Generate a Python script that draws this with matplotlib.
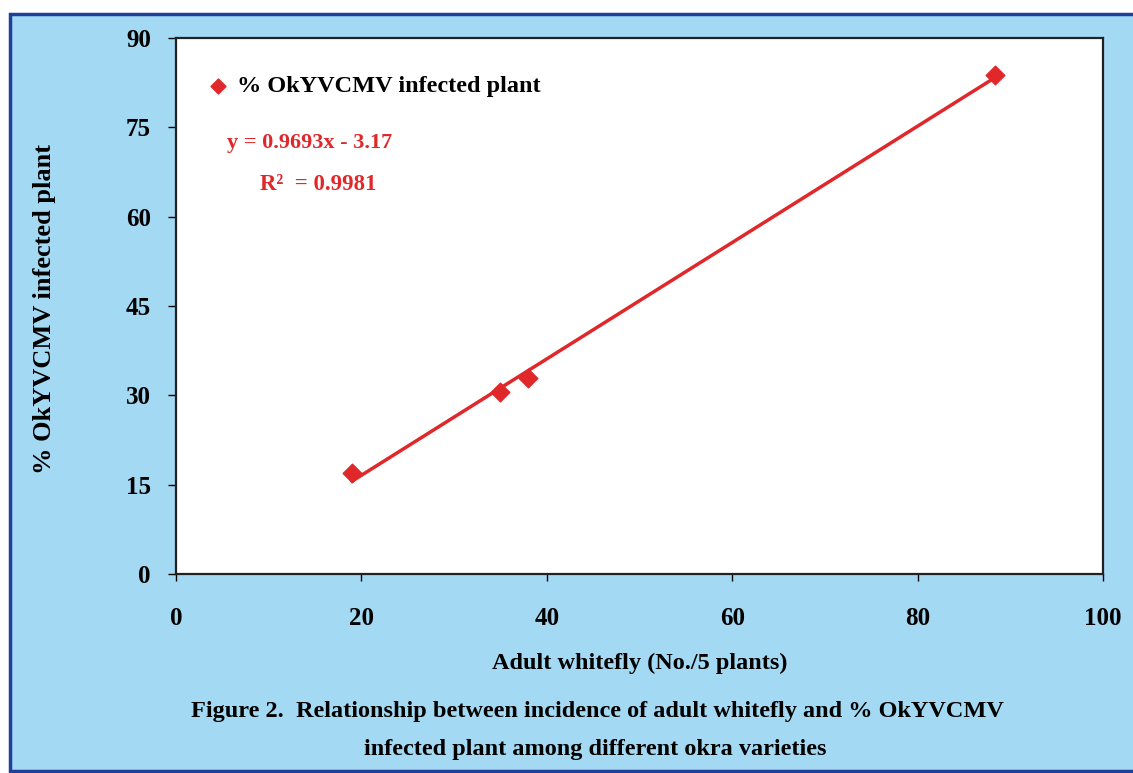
import numpy as np
import matplotlib
matplotlib.use("Agg")
import matplotlib.pyplot as plt
from matplotlib.patches import Rectangle

# Data
whitefly = [19.0, 35.0, 38.0, 88.3]
infected = [17.0, 30.6, 32.9, 83.8]
x_ticks = [0, 20, 40, 60, 80, 100]
y_ticks = [0, 15, 30, 45, 60, 75, 90]
series_label = "% OkYVCMV infected plant"
eq_text = "y = 0.9693x - 3.17"
r2_text = "R\u00b2  = 0.9981"
x_label = "Adult whitefly (No./5 plants)"
y_label = "% OkYVCMV infected plant"
caption1 = "Figure 2.  Relationship between incidence of adult whitefly and % OkYVCMV"
caption2 = "infected plant among different okra varieties"

RED = "#e0282a"
BG = "#a3d9f3"
BORDER = "#1f3f9a"
FONT = "Liberation Serif"

W, H = 1133, 773
fig = plt.figure(figsize=(W / 100, H / 100), dpi=100)
fig.patch.set_facecolor("white")

# light blue panel with dark blue border
panel = Rectangle((10 / W, 2 / H), 1.2, 1 - 16 / H, transform=fig.transFigure,
                  facecolor=BG, edgecolor=BORDER, linewidth=2.5, zorder=-10)
fig.add_artist(panel)

ax = fig.add_axes([176 / W, 1 - 574 / H, (1103 - 176) / W, (574 - 38) / H])
ax.set_zorder(5)
ax.set_facecolor("white")
ax.set_xlim(0, 100)
ax.set_ylim(0, 90)
ax.set_xticks(x_ticks)
ax.set_yticks(y_ticks)
for s in ax.spines.values():
    s.set_color("#222222")
    s.set_linewidth(1.6)

ax.tick_params(axis="y", direction="out", length=6, width=1, pad=12)
ax.tick_params(axis="x", direction="out", length=5, width=1, pad=19)
for lab in ax.get_xticklabels() + ax.get_yticklabels():
    lab.set_fontfamily(FONT)
    lab.set_fontweight("bold")
    lab.set_fontsize(18)

# scatter points
ax.scatter(whitefly, infected, marker="D", s=90, color=RED, zorder=3,
           label=series_label)
# linear trendline
coef = np.polyfit(whitefly, infected, 1)
xs = np.array([min(whitefly), max(whitefly)])
ax.plot(xs, np.polyval(coef, xs), color=RED, linewidth=2.5, zorder=2)

ax.legend(loc="center left", bbox_to_anchor=(211 / W, 1 - 86 / H),
          bbox_transform=fig.transFigure, frameon=False,
          handlelength=0.6, handletextpad=0.45, borderaxespad=0, borderpad=0,
          markerscale=0.8,
          prop={"family": FONT, "weight": "bold", "size": 17.5})

fig.text(227 / W, 1 - 143 / H, eq_text, color=RED, fontfamily=FONT,
         fontweight="bold", fontsize=16, va="center", ha="left", zorder=10)
fig.text(260 / W, 1 - 185 / H, r2_text, color=RED, fontfamily=FONT,
         fontweight="bold", fontsize=16.5, va="center", ha="left", zorder=10)

fig.text(640 / W, 1 - 663 / H, x_label, fontfamily=FONT, fontweight="bold",
         fontsize=17.5, ha="center", va="center")
fig.text(45 / W, 1 - 309 / H, y_label, fontfamily=FONT, fontweight="bold",
         fontsize=19, ha="center", va="center", rotation=90)
fig.text(597 / W, 1 - 712 / H, caption1, fontfamily=FONT, fontweight="bold",
         fontsize=17.5, ha="center", va="center")
fig.text(595 / W, 1 - 750 / H, caption2, fontfamily=FONT, fontweight="bold",
         fontsize=17.5, ha="center", va="center")

fig.savefig("out.png", dpi=100, facecolor=fig.get_facecolor())
